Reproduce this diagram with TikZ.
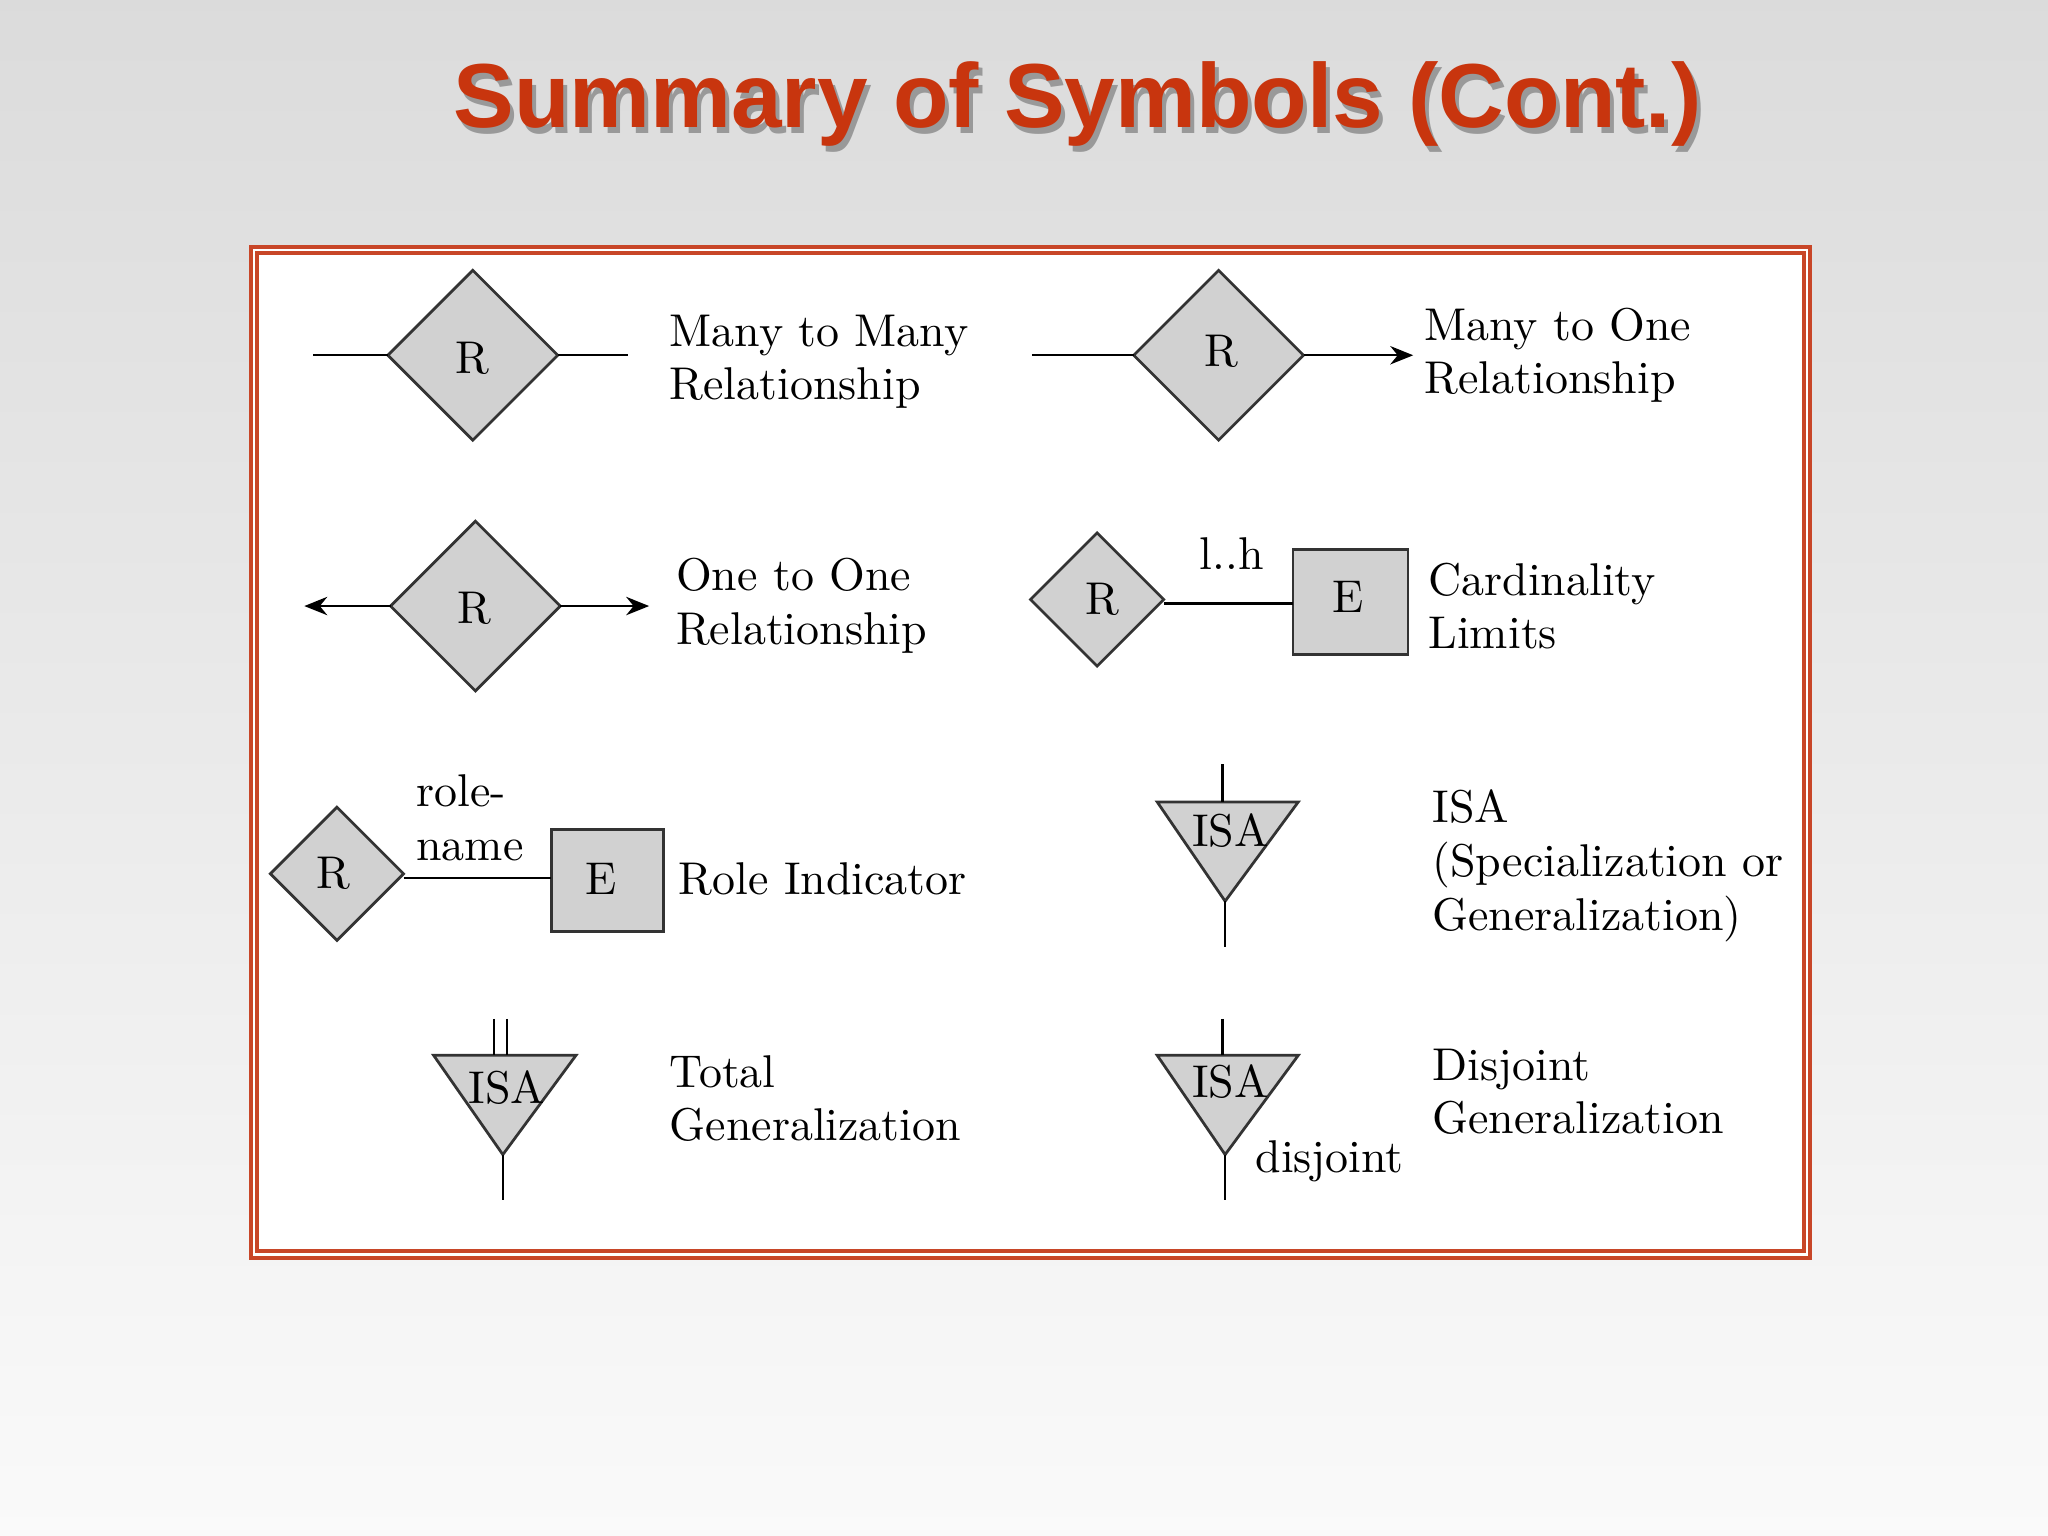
\documentclass[tikz,border=0pt]{standalone}
\usepackage{fontspec}
\newfontfamily\titlefont{Liberation Sans}
\usetikzlibrary{arrows.meta}
\begin{document}
\begin{tikzpicture}[x=0.01cm,y=-0.01cm,
  ent/.style={draw=black!80,fill=black!18,line width=0.6pt},
  ln/.style={draw=black,line width=0.5pt},
  arr/.style={ln,-{Stealth[length=5pt,width=4pt]}},
  lab/.style={anchor=west,font=\fontsize{10}{11.7}\selectfont,align=left,inner sep=0pt},
  sym/.style={font=\fontsize{10}{12}\selectfont,inner sep=0pt}]
\useasboundingbox (0,0) rectangle (1568,1176);
\shade[top color=black!14,bottom color=black!2] (0,0) rectangle (1568,1176);
\node[font=\titlefont\bfseries\fontsize{19.8}{24}\selectfont,text=black!40] at (828,84) {Summary of Symbols (Cont.)};
\node[font=\titlefont\bfseries\fontsize{19.8}{24}\selectfont,text={rgb,255:red,200;green,53;blue,14}] (title) at (825,80) {Summary of Symbols (Cont.)};
\draw[fill=white,draw={rgb,255:red,200;green,70;blue,40},line width=0.9pt] (192,189) rectangle (1386,963);
\draw[draw={rgb,255:red,200;green,70;blue,40},line width=0.9pt] (197,194) rectangle (1381,958);
% 1 many to many
\draw[ent] (362,207) -- (427,272) -- (362,337) -- (297,272) -- cycle;
\node[sym] (r1) at (362,274) {R};
\coordinate (a1) at (240,272); \coordinate (a2) at (297,272);
\coordinate (a3) at (427,272); \coordinate (a4) at (481,272);
\draw[ln] (a1) -- (a2); \draw[ln] (a3) -- (a4);
\node[lab] (t1) at (512,277) {Many to Many\\Relationship};
% 2 many to one
\draw[ent] (933,207) -- (998,272) -- (933,337) -- (868,272) -- cycle;
\node[sym] (r2) at (935,269) {R};
\coordinate (b1) at (790,272); \coordinate (b2) at (868,272);
\coordinate (b3) at (998,272); \coordinate (b4) at (1082,272);
\draw[ln] (b1) -- (b2); \draw[arr] (b3) -- (b4);
\node[lab] (t2) at (1090,272) {Many to One\\Relationship};
% 3 one to one
\draw[ent] (364,399) -- (429,464) -- (364,529) -- (299,464) -- cycle;
\node[sym] (r3) at (363,466) {R};
\coordinate (c1) at (233,464); \coordinate (c2) at (299,464);
\coordinate (c3) at (429,464); \coordinate (c4) at (497,464);
\draw[arr] (c2) -- (c1); \draw[arr] (c3) -- (c4);
\node[lab] (t3) at (517,464) {One to One\\Relationship};
% 4 cardinality
\draw[ent] (840,408) -- (891,459) -- (840,510) -- (789,459) -- cycle;
\node[sym] (r4) at (844,459) {R};
\draw[ent] (990,421) rectangle (1078,501);
\node[sym] (e4) at (1032,457) {E};
\coordinate (d1) at (891,462); \coordinate (d2) at (990,462);
\draw[ln] (d1) -- (d2);
\node[sym] (lh) at (943,424) {l..h};
\node[lab] (t4) at (1093,464) {Cardinality\\Limits};
% 5 role
\draw[ent] (258,618) -- (309,669) -- (258,720) -- (207,669) -- cycle;
\node[sym] (r5) at (255,669) {R};
\draw[ent] (422,635) rectangle (508,713);
\node[sym] (e5) at (460,673) {E};
\coordinate (f1) at (309,672); \coordinate (f2) at (422,672);
\draw[ln] (f1) -- (f2);
\node[lab] (rn) at (318,626) {role-\\name};
\node[lab] (t5) at (519,673) {Role Indicator};
% 6 ISA
\draw[ent] (886,614) -- (994,614) -- (938,690) -- cycle;
\node[sym] (isa1) at (942,636) {ISA};
\coordinate (g1) at (936,585); \coordinate (g2) at (936,614);
\coordinate (g3) at (938,690); \coordinate (g4) at (938,725);
\draw[ln] (g1) -- (g2); \draw[ln] (g3) -- (g4);
\node[lab] (t6) at (1096,663) {ISA\\(Specialization or\\Generalization)};
% 7 total
\draw[ent] (332,808) -- (441,808) -- (385,884) -- cycle;
\node[sym] (isa2) at (388,833) {ISA};
\coordinate (h1) at (378,780); \coordinate (h2) at (378,808);
\coordinate (h3) at (388,780); \coordinate (h4) at (388,808);
\coordinate (h5) at (385,884); \coordinate (h6) at (385,919);
\draw[ln] (h1) -- (h2); \draw[ln] (h3) -- (h4); \draw[ln] (h5) -- (h6);
\node[lab] (t7) at (512,841) {Total\\Generalization};
% 8 disjoint
\draw[ent] (886,808) -- (994,808) -- (938,884) -- cycle;
\node[sym] (isa3) at (942,828) {ISA};
\coordinate (k1) at (936,780); \coordinate (k2) at (936,808);
\coordinate (k3) at (938,884); \coordinate (k4) at (938,919);
\draw[ln] (k1) -- (k2); \draw[ln] (k3) -- (k4);
\node[sym] (dj) at (1018,889) {disjoint};
\node[lab] (t8) at (1096,836) {Disjoint\\Generalization};
\end{tikzpicture}
\end{document}
